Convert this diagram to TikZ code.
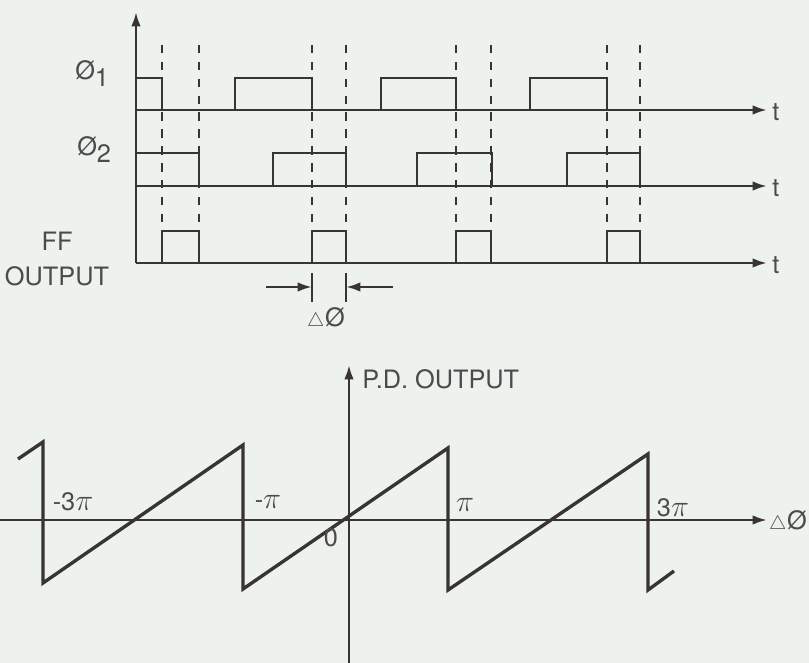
\documentclass[tikz,border=0pt]{standalone}
\usepackage{fontspec}
\setmainfont{TeX Gyre Heros}
\usetikzlibrary{arrows.meta, positioning}
\definecolor{paper}{HTML}{EEF2EE}
\definecolor{ink}{HTML}{383434}
\definecolor{inkgray}{HTML}{4C4A4A}

\tikzset{
  wave/.style={ink, line width=2.1pt, line join=miter},
  axisline/.style={ink, line width=1.8pt, ->},
  guide/.style={ink, line width=1.5pt, dash pattern=on 6pt off 6pt},
  tick/.style={ink, line width=1.8pt},
}
\newcommand{\dphisym}{\scalebox{0.8}{$\triangle$}\kern0.5pt Ø}
\newcommand{\bigpi}{\scalebox{1.25}{$\pi$}}

\begin{document}
\begin{tikzpicture}[
    x=0.025cm, y=-0.025cm,
    >={Latex[length=3.6mm, width=2.4mm]},
    every node/.style={text=inkgray, font=\fontsize{18}{22}\selectfont, inner sep=0pt},
  ]

  % Background
  \useasboundingbox (0,0) rectangle (809,663);
  \fill[paper] (0,0) rectangle (809,663);

  %%% ---------------- timing diagram ---------------- %%%
  \coordinate (vtop) at (136,12);
  \coordinate (vbot) at (136,263);
  \draw[axisline] (vbot) -- (vtop);

  % phi 1
  \coordinate (aone) at (136,110);
  \coordinate (eone) at (767,110);
  \draw[axisline] (aone) -- (eone);
  \draw[wave] (136,78) -- (162,78) -- (162,110)
    -- (235,110) -- (235,78) -- (312,78) -- (312,110)
    -- (381,110) -- (381,78) -- (456,78) -- (456,110)
    -- (530,110) -- (530,78) -- (607,78) -- (607,110);
  \node[anchor=base west] (phione) at (75,80) {Ø\raisebox{-0.5ex}{1}};
  \node[anchor=west] (tone) at (772,112) {t};

  % phi 2
  \coordinate (atwo) at (136,186);
  \coordinate (etwo) at (767,186);
  \draw[axisline] (atwo) -- (etwo);
  \draw[wave] (136,153) -- (199,153) -- (199,186)
    -- (273,186) -- (273,153) -- (346,153) -- (346,186)
    -- (417,186) -- (417,153) -- (492,153) -- (492,186)
    -- (567,186) -- (567,153) -- (640,153) -- (640,186);
  \node[anchor=base west] (phitwo) at (77,156) {Ø\raisebox{-0.5ex}{2}};
  \node[anchor=west] (ttwo) at (772,188) {t};

  % FF output
  \coordinate (aff) at (136,263);
  \coordinate (eff) at (767,263);
  \draw[axisline] (aff) -- (eff);
  \foreach \xa/\xb in {162/199, 312/346, 456/491, 607/640}
    \draw[wave] (\xa,263) -- (\xa,231) -- (\xb,231) -- (\xb,263);
  \node[align=center, font=\fontsize{18}{25}\selectfont] (ffout) at (57,259) {FF\\OUTPUT};
  \node[anchor=west] (tff) at (772,265) {t};

  % edge guides
  \foreach \xg in {162,199,312,346,456,491,607,640}
    \draw[guide] (\xg,45) -- (\xg,231);

  % delta phi marker
  \coordinate (mla) at (312,273);
  \coordinate (mlb) at (312,302);
  \coordinate (mra) at (346,273);
  \coordinate (mrb) at (346,302);
  \draw[tick] (mla) -- (mlb);
  \draw[tick] (mra) -- (mrb);
  \coordinate (mlin) at (312,287);
  \coordinate (mrin) at (346,287);
  \draw[ink, line width=1.8pt, ->] (266,287) -- (mlin);
  \draw[ink, line width=1.8pt, ->] (393,287) -- (mrin);
  \node (dphi) at (326,319) {\dphisym};

  %%% ---------------- phase detector output ---------------- %%%
  \coordinate (hleft) at (0,520);
  \coordinate (hright) at (767,520);
  \coordinate (pbot) at (349,663);
  \coordinate (ptop) at (349,365);
  \draw[axisline] (hleft) -- (hright);
  \draw[axisline] (pbot) -- (ptop);
  \node[anchor=west] (pdout) at (362,379) {P.D. OUTPUT};
  \node[anchor=east] (dphiaxis) at (807,522) {\dphisym};

  % sawtooth
  \draw[wave, line width=2.4pt] (18,459) -- (43,442) -- (43,583)
    -- (243,445) -- (243,589) -- (448,448) -- (448,590)
    -- (648,454) -- (648,590) -- (674,571);

  % axis labels
  \node (mthree) at (73,502) {-3\bigpi};
  \node (mone) at (268,502) {-\bigpi};
  \node (pone) at (465,505) {\bigpi};
  \node (pthree) at (673,508) {3\bigpi};
  \node (zero) at (331,538) {0};

\end{tikzpicture}
\end{document}
